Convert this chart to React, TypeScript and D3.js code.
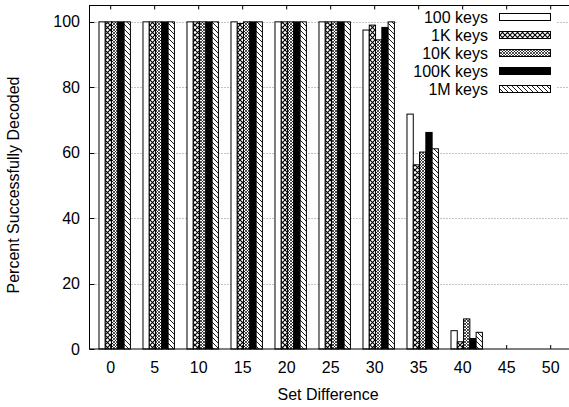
import * as d3 from 'd3'

const categories = ['0', '5', '10', '15', '20', '25', '30', '35', '40', '45', '50']
const series = ['100 keys', '1K keys', '10K keys', '100K keys', '1M keys']

const keys100 = [100, 100, 100, 100, 100, 100, 97.5, 71.8, 5.6, 0, 0]
const keys1K = [100, 100, 100, 99.5, 100, 100, 99, 56.3, 2.2, 0, 0]
const keys10K = [100, 100, 100, 100, 100, 100, 94.5, 60.2, 9.2, 0, 0]
const keys100K = [100, 100, 100, 100, 100, 100, 98.3, 66.2, 3.2, 0, 0]
const keys1M = [100, 100, 100, 100, 100, 100, 100, 61.2, 5.1, 0, 0]
const yTicks = [0, 20, 40, 60, 80, 100]

const values = [keys100, keys1K, keys10K, keys100K, keys1M]
const fills = ['#fff', 'url(#pCross)', 'url(#pDots)', '#000', 'url(#pHatch)']

const width = 569,
      height = 407,
      left = 89.5,
      top = 5.5,
      bottom = 349,
      right = 580,
      step = 44,
      font = 'Liberation Sans, Arial, Helvetica, sans-serif'

const x = d3.scaleBand<string>()
  .domain(categories)
  .range([92.7, 92.7 + step * categories.length])
  .padding(0)

// bar slots inside each cluster, one empty slot on each side
const xs = d3.scaleBand<string>()
  .domain(series)
  .range([0, step])
  .paddingInner(0)
  .paddingOuter(1)

const y = d3.scaleLinear()
  .domain([0, 105])
  .range([bottom, top])

const tickX = (c: string) => (x(c) as number) + 18

export default function App() {
  return (
    <svg width={width} height={height} style={{ position: 'fixed', left: 0, top: 0, background: '#fff' }}
      fontFamily={font}>
      <defs>
        <pattern id='pCross' width='5' height='5' patternUnits='userSpaceOnUse'>
          <rect width='5' height='5' fill='#fff' />
          <path d='M0,0L5,5M5,0L0,5' stroke='#000' strokeWidth='1.1' />
        </pattern>
        <pattern id='pDots' width='3' height='3' patternUnits='userSpaceOnUse'>
          <rect width='3' height='3' fill='#fff' />
          <path d='M0,0L3,3M3,0L0,3' stroke='#000' strokeWidth='0.7' />
        </pattern>
        <pattern id='pHatch' width='5' height='5' patternUnits='userSpaceOnUse'>
          <rect width='5' height='5' fill='#fff' />
          <path d='M-1,-1L6,6' stroke='#000' strokeWidth='0.9' />
        </pattern>
      </defs>

      <g className='grid'>
        {yTicks.filter(t => t > 0).map(t =>
          <line key={t} x1={left} x2={right} y1={Math.round(y(t)) + 0.5} y2={Math.round(y(t)) + 0.5}
            stroke='#888' strokeWidth='1' strokeDasharray='1,2' />
        )}
      </g>

      <g className='legend-bg'>
        <rect x='397' y='8' width='160' height='90' fill='#fff' />
      </g>

      <g className='bars'>
        {categories.map((c, i) =>
          <g key={c}>
            {series.map((s, j) =>
              <rect key={s}
                x={(x(c) as number) + (xs(s) as number)}
                y={y(values[j][i])}
                width={xs.bandwidth()}
                height={bottom - y(values[j][i])}
                fill={fills[j]}
                stroke='#000'
                strokeWidth='1' />
            )}
          </g>
        )}
      </g>

      <g className='legend'>
        {series.map((s, j) =>
          <g key={s} transform={`translate(0, ${17 + j * 18})`}>
            <text x='488' y='5.5' textAnchor='end' fontSize='16'>{s}</text>
            <rect x='499.5' y='-3.5' width='51' height='7' fill={fills[j]} stroke='#000' strokeWidth='1' />
          </g>
        )}
      </g>

      <g className='frame'>
        <rect x={left} y={top} width={right - left} height={bottom - top} fill='none' stroke='#000' strokeWidth='1' />
        {yTicks.map(t =>
          <g key={t}>
            <line x1={left} x2={left + 5} y1={Math.round(y(t)) + 0.5} y2={Math.round(y(t)) + 0.5} stroke='#000' />
            <text x='80' y={y(t) + 5.5} textAnchor='end' fontSize='16'>{t}</text>
          </g>
        )}
        {categories.map(c =>
          <g key={c}>
            <line x1={tickX(c)} x2={tickX(c)} y1={top} y2={top + 4} stroke='#000' />
            <line x1={tickX(c)} x2={tickX(c)} y1={bottom} y2={bottom - 4} stroke='#000' />
            <text x={tickX(c)} y='373' textAnchor='middle' fontSize='16'>{c}</text>
          </g>
        )}
      </g>

      <text x='328' y='400' textAnchor='middle' fontSize='16'>Set Difference</text>
      <text transform='translate(19, 185) rotate(-90)' textAnchor='middle' fontSize='16'>Percent Successfully Decoded</text>
    </svg>
  )
}
